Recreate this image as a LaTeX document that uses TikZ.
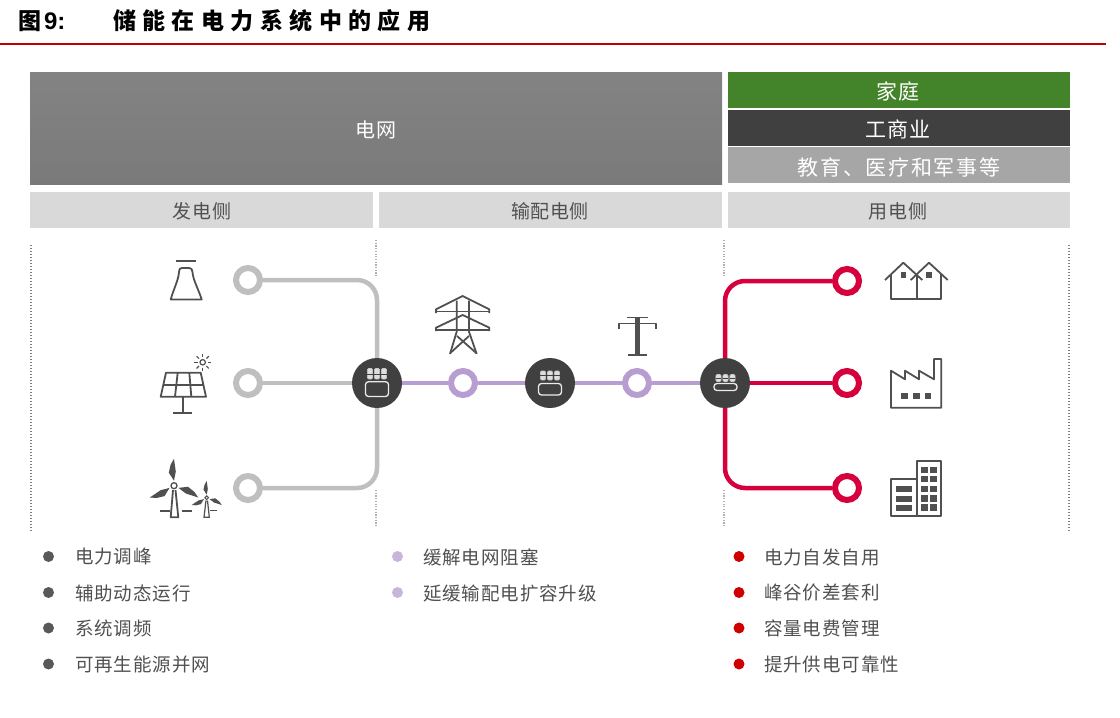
\documentclass[tikz,border=0pt]{standalone}
\usepackage{fontspec}
\setmainfont{Noto Sans CJK SC}
\newfontfamily\latinbold{Liberation Sans}
\definecolor{gridtop}{HTML}{838383}
\definecolor{gridbot}{HTML}{7A7A7A}
\definecolor{homegreen}{HTML}{43832A}
\definecolor{bizdark}{HTML}{404040}
\definecolor{edugray}{HTML}{A6A6A6}
\definecolor{headgray}{HTML}{D9D9D9}
\definecolor{linegray}{HTML}{BFBFBF}
\definecolor{linepurple}{HTML}{B89DD1}
\definecolor{linered}{HTML}{D6003C}
\definecolor{rulered}{HTML}{C00000}
\definecolor{iconink}{HTML}{505050}
\definecolor{textink}{HTML}{505050}
\definecolor{dotgray}{HTML}{7F7F7F}
\definecolor{dotlight}{HTML}{B0B0B0}
\definecolor{bulgray}{HTML}{595959}
\definecolor{bulpurple}{HTML}{C9B5DC}
\definecolor{bulred}{HTML}{D00000}
\definecolor{cellgray}{HTML}{C8C8C8}
\newcommand{\fs}[2]{\fontsize{#1}{#1}\selectfont\addfontfeature{LetterSpace=#2}}
\newcommand{\battery}[5]{% cx, celltop, cellbottom, recttop, rectbottom
  \foreach \dx in {-7,0,7}{
    \draw[cellgray,fill=cellgray!60!white,line width=.6pt,rounded corners=1.2pt] (#1+\dx-2.6,#2) rectangle (#1+\dx+2.6,#3);
    \draw[bizdark,line width=.5pt] (#1+\dx-2.6,{0.5*(#2+#3)}) -- (#1+\dx+2.6,{0.5*(#2+#3)});
  }
  \draw[white!92!black,line width=1.3pt,rounded corners=3pt] (#1-11.5,#4) rectangle (#1+11.5,#5);
}
\newcommand{\blade}[4]{% x, y, rotation, scale
  \fill[iconink,shift={(#1,#2)},rotate=#3,scale=#4] (0,-5) -- (-5.2,-13) -- (-3.4,-21) -- (0,-27) -- (1.8,-14) -- cycle;
}
\tikzset{
  x=1pt,y=-1pt,
  cjklabel/.style={inner sep=0,outer sep=0,anchor=center},
  grouphead/.style={cjklabel,white},
  sidehead/.style={cjklabel,textink},
  itemtext/.style={cjklabel,anchor=west,textink,font=\fs{18.5}{5}},
  ring/.style={circle,draw=#1,fill=white,line width=6pt,minimum size=24pt,inner sep=0},
  hub/.style={circle,fill=bizdark,minimum size=50pt,inner sep=0},
  bullet/.style={circle,fill=#1,minimum size=11pt,inner sep=0},
  link/.style={draw=#1,line width=4.5pt,rounded corners=20pt},
  icon/.style={draw=iconink,line width=1.8pt},
  dotsouter/.style={draw=dotgray,line width=1.5pt,dash pattern=on 1.4pt off 1.6pt},
  dotsinner/.style={draw=dotlight,line width=1.2pt,dash pattern=on 1.2pt off 1.5pt},
}
\begin{document}
\begin{tikzpicture}
\useasboundingbox (0,0) rectangle (1120,718);
\fill[white] (0,0) rectangle (1120,718);
% title
\node[cjklabel,anchor=west] (fig) at (18,21) {\fontsize{23}{23}\selectfont\bfseries 图};
\node[cjklabel,anchor=west] (num) at (44,21) {\latinbold\fontsize{24}{24}\selectfont\bfseries 9:};
\node[cjklabel,anchor=west] (title) at (113,21) {\fs{23}{28}\bfseries 储能在电力系统中的应用};
\draw[rulered,line width=2pt] (0,43.5) -- (1105.5,43.5);
% top blocks
\path[top color=gridtop,bottom color=gridbot] (30,72) rectangle (722,184);
\node[grouphead,font=\fs{20}{3}] (grid) at (376,130) {电网};
\fill[homegreen] (728,72) rectangle (1070,108);
\node[grouphead,font=\fs{21}{3}] (home) at (898,91) {家庭};
\fill[bizdark] (728,110) rectangle (1070,145.5);
\node[grouphead,font=\fs{21}{5}] (biz) at (898,129) {工商业};
\fill[edugray] (728,147) rectangle (1070,183);
\node[grouphead,font=\fs{21}{8}] (edu) at (899,167) {教育、医疗和军事等};
\fill[headgray] (30,192) rectangle (373,228);
\fill[headgray] (379,192) rectangle (722,228);
\fill[headgray] (728,192) rectangle (1070,228);
\node[sidehead,font=\fs{19}{3}] (gen) at (202,211) {发电侧};
\node[sidehead,font=\fs{19}{3}] (trans) at (550,211) {输配电侧};
\node[sidehead,font=\fs{19}{3}] (use) at (898,211) {用电侧};
% dotted separators
\draw[dotsouter] (31,245) -- (31,531);
\draw[dotsouter] (1069,245) -- (1069,531);
\draw[dotsinner] (376,240) -- (376,277);
\draw[dotsinner] (376,490) -- (376,527);
\draw[dotsinner] (724,240) -- (724,277);
\draw[dotsinner] (724,490) -- (724,527);
% network nodes
\node[ring=linegray] (g1) at (248,280) {};
\node[ring=linegray] (g2) at (248,383) {};
\node[ring=linegray] (g3) at (248,488) {};
\node[ring=linepurple] (p1) at (463,383) {};
\node[ring=linepurple] (p2) at (637,383) {};
\node[ring=linered] (r1) at (847,281) {};
\node[ring=linered] (r2) at (847,383) {};
\node[ring=linered] (r3) at (847,488) {};
\node[hub] (h1) at (377,383) {};
\node[hub] (h2) at (550,383) {};
\node[hub] (h3) at (725,383) {};
% connectors
\draw[link=linegray] (g1) -| (h1);
\draw[link=linegray] (g2) -- (h1);
\draw[link=linegray] (g3) -| (h1);
\draw[link=linepurple] (h1) -- (p1);
\draw[link=linepurple] (p1) -- (h2);
\draw[link=linepurple] (h2) -- (p2);
\draw[link=linepurple] (p2) -- (h3);
\draw[link=linered] (r1) -| (h3);
\draw[link=linered] (r2) -- (h3);
\draw[link=linered] (r3) -| (h3);
% batteries in the hubs
\battery{377}{368.5}{379}{381.7}{396.5}
\battery{550}{371}{380}{383.5}{395}
\battery{725.5}{374.5}{381.5}{383.5}{390.5}
% cooling tower
\draw[iconink,line width=2.6pt] (175.7,261) -- (195.7,261);
\draw[icon,line join=round] (170.7,299.5) -- (201.7,299.5)
  .. controls (198,288) and (193,280) .. (192.5,272)
  .. controls (192.5,269) and (191,268) .. (189,268)
  -- (182,268) .. controls (180,268) and (179,269) .. (179,272)
  .. controls (178.5,280) and (174,288) .. cycle;
% solar panel
\draw[icon,line join=round] (166,372.7) -- (200.7,372.7) -- (206,396.7) -- (160.7,396.7) -- cycle;
\draw[icon] (163.3,385) -- (203.3,385);
\draw[icon] (177.7,372.7) -- (175,396.7);
\draw[icon] (189.3,372.7) -- (191.3,396.7);
\draw[icon] (182.7,396.7) -- (182.7,412.7);
\draw[icon] (173.3,412.7) -- (192,412.7);
\draw[iconink,line width=1.2pt] (202.7,362.3) circle (2.7pt);
\foreach \a in {0,45,...,315}{
  \draw[iconink,line width=1.2pt] (202.7,362.3) ++(\a:5.2) -- ++(\a:3.4);
}
% wind turbines
\blade{174}{485.7}{0}{1}
\blade{174}{485.7}{116}{1}
\blade{174}{485.7}{244}{1}
\draw[iconink,line width=1.3pt] (174,485.7) circle (3pt);
\draw[icon,line join=round] (173,490) -- (170.7,517.3) -- (178.3,517.3) -- (175.5,490);
\draw[iconink,line width=2pt] (160,510.7) -- (170,510.7);
\draw[iconink,line width=2pt] (181.7,510.7) -- (191.7,510.7);
\blade{206.7}{497.7}{0}{.62}
\blade{206.7}{497.7}{116}{.62}
\blade{206.7}{497.7}{244}{.62}
\draw[iconink,line width=1pt] (206.7,497.7) circle (1.8pt);
\draw[iconink,line width=1.2pt,line join=round] (206,500.5) -- (204,517.3) -- (209.3,517.3) -- (207.5,500.5);
\draw[iconink,line width=1.1pt] (210,510.7) -- (216.7,510.7);
% pylon
\draw[icon,line join=round] (436,313) -- (436,309.3) -- (462.7,296) -- (489.3,309.3) -- (489.3,313);
\draw[icon] (436,311.5) -- (489.3,311.5);
\draw[icon,line join=round] (436,331) -- (436,327.7) -- (462.7,315) -- (489.3,327.7) -- (489.3,331);
\draw[icon] (436,329.7) -- (489.3,329.7);
\draw[icon,line join=round] (456.7,300.7) -- (456.7,331.7) -- (450,354);
\draw[icon,line join=round] (469,300.7) -- (469,331.7) -- (476.7,354);
\draw[icon] (457,336) -- (476.2,353);
\draw[icon] (469,336) -- (450.3,353);
% T pole
\draw[icon,line join=round] (619,329.3) -- (619,323.5) -- (656,323.5) -- (656,329.3);
\draw[icon] (627,317.5) -- (648,317.5);
\draw[iconink,line width=5.4pt] (637.2,317.5) -- (637.2,355);
\draw[icon,line width=2pt] (627.7,355.3) -- (646.7,355.3);
% houses
\draw[icon,line join=round] (885,280) -- (903.3,262.7) -- (922.3,280);
\draw[icon,line join=round] (910.7,280) -- (929,262.7) -- (947.7,280);
\draw[icon,line join=round] (891,274.3) -- (891,299.3) -- (941.3,299.3) -- (941.3,274.3);
\draw[icon] (916.7,274) -- (916.7,299.3);
\fill[iconink] (900.5,272) rectangle (906.1,278);
\fill[iconink] (926.2,272) rectangle (931.8,278);
% factory
\draw[icon,line join=round] (891,407.7) -- (891,370.7) -- (905,379.3) -- (905,370.7) -- (919,379.3) -- (919,370.7) -- (934,379.3) -- (934,359) -- (941.3,359) -- (941.3,407.7) -- cycle;
\fill[iconink] (901.3,392.7) rectangle (908,399.4);
\fill[iconink] (913.3,392.7) rectangle (920,399.4);
\fill[iconink] (924.6,392.7) rectangle (931.3,399.4);
% buildings
\draw[icon,line join=round] (891,479.3) rectangle (916.7,516);
\draw[icon,line join=round] (916.7,461) rectangle (941.3,516);
\foreach \yt/\yb in {486/491.7,495.7/501.7,505.3/511}{
  \fill[iconink] (895.7,\yt) rectangle (912.3,\yb);
}
\foreach \yt/\yb in {466.7/472.7,476/482.3,485.7/492.3,495/501.7,504.3/511}{
  \fill[iconink] (921.3,\yt) rectangle (928.3,\yb);
  \fill[iconink] (930.3,\yt) rectangle (937.3,\yb);
}
% bullets: generation
\node[bullet=bulgray] (ga) at (48.5,556.5) {};
\node[bullet=bulgray] (gb) at (48.5,592.5) {};
\node[bullet=bulgray] (gc) at (48.5,628) {};
\node[bullet=bulgray] (gd) at (48.5,664) {};
\node[itemtext] (gat) at (75,557) {电力调峰};
\node[itemtext] (gbt) at (75,593) {辅助动态运行};
\node[itemtext] (gct) at (75,628.5) {系统调频};
\node[itemtext] (gdt) at (75,664.5) {可再生能源并网};
% bullets: transmission
\node[bullet=bulpurple] (ta) at (397.5,556.5) {};
\node[bullet=bulpurple] (tb) at (397.5,592.5) {};
\node[itemtext] (tat) at (423,557) {缓解电网阻塞};
\node[itemtext] (tbt) at (423,593) {延缓输配电扩容升级};
% bullets: consumption
\node[bullet=bulred] (ua) at (739,556.5) {};
\node[bullet=bulred] (ub) at (739,592.5) {};
\node[bullet=bulred] (uc) at (739,628) {};
\node[bullet=bulred] (ud) at (739,664) {};
\node[itemtext] (uat) at (764,557) {电力自发自用};
\node[itemtext] (ubt) at (764,593) {峰谷价差套利};
\node[itemtext] (uct) at (764,628.5) {容量电费管理};
\node[itemtext] (udt) at (764,664.5) {提升供电可靠性};
\end{tikzpicture}
\end{document}
